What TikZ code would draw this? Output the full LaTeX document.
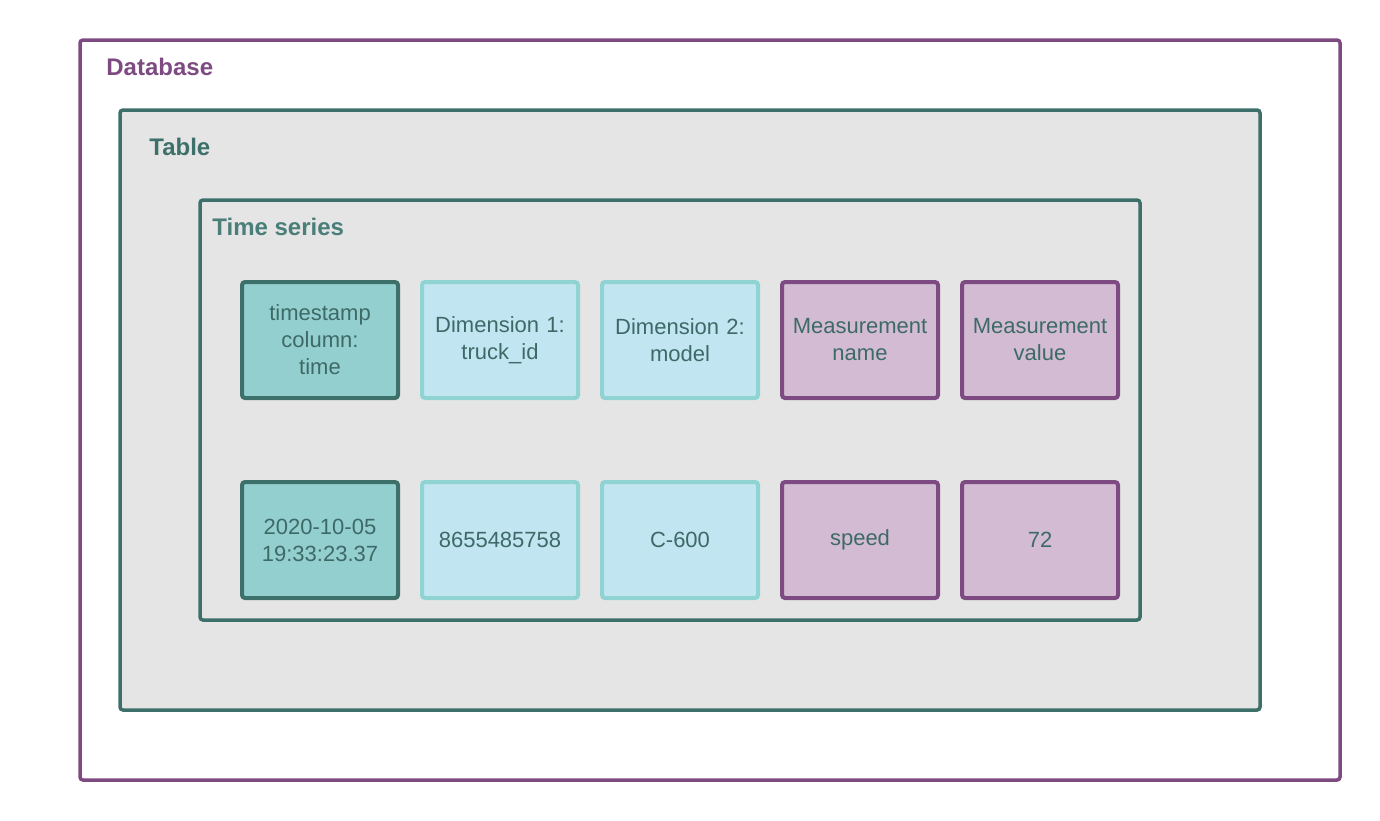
\documentclass[tikz,border=0pt]{standalone}
\usepackage{fontspec}
\setmainfont{Liberation Sans}
\definecolor{dbpurple}{HTML}{7E4A82}
\definecolor{darkteal}{HTML}{3D706A}
\definecolor{tealfill}{HTML}{94CFCF}
\definecolor{lbfill}{HTML}{C2E5F2}
\definecolor{lbdraw}{HTML}{8FD3D3}
\definecolor{pfill}{HTML}{D3BCD3}
\definecolor{grayfill}{HTML}{E5E5E5}
\definecolor{txt}{HTML}{3D6A66}
\begin{document}
\begin{tikzpicture}[x=0.5pt,y=-0.5pt,
  frame/.style={line width=1.75pt,rounded corners=1.5pt},
  cell/.style={line width=2pt,rounded corners=1.5pt,minimum width=78pt,minimum height=58pt,inner sep=0pt,
    align=center,text=txt,font=\fontsize{11}{13.5}\selectfont,anchor=north west,text width=75pt},
  tscell/.style={cell,draw=darkteal,fill=tealfill},
  dimcell/.style={cell,draw=lbdraw,fill=lbfill},
  mcell/.style={cell,draw=dbpurple,fill=pfill},
  title/.style={font=\fontsize{12}{14}\selectfont\bfseries,anchor=west,inner sep=0pt}]
\useasboundingbox (0,0) rectangle (1380,820);
\fill[white] (0,0) rectangle (1380,820);
\draw[frame,draw=dbpurple] (80,40) rectangle (1340,780);
\node[title,text=dbpurple] (db) at (106,67) {Database};
\draw[frame,draw=darkteal,fill=grayfill] (120,110) rectangle (1260,710);
\node[title,text=darkteal] (tbl) at (149,147) {Table};
\draw[frame,draw=darkteal] (200,200) rectangle (1140,620);
\node[title,text=darkteal!85!tealfill] (ts) at (212,227) {Time series};
% row 1
\node[tscell] (a1) at (240,280) {timestamp\\column:\\time};
\node[dimcell] (b1) at (420,280) {Dimension 1:\\truck\_id};
\node[dimcell] (c1) at (600,280) {Dimension 2:\\model};
\node[mcell] (d1) at (780,280) {Measurement\\name};
\node[mcell] (e1) at (960,280) {Measurement\\value};
% row 2
\node[tscell] (a2) at (240,480) {2020-10-05\\19:33:23.37};
\node[dimcell] (b2) at (420,480) {8655485758};
\node[dimcell] (c2) at (600,480) {C-600};
\node[mcell] (d2) at (780,480) {speed};
\node[mcell] (e2) at (960,480) {72};
\end{tikzpicture}
\end{document}
